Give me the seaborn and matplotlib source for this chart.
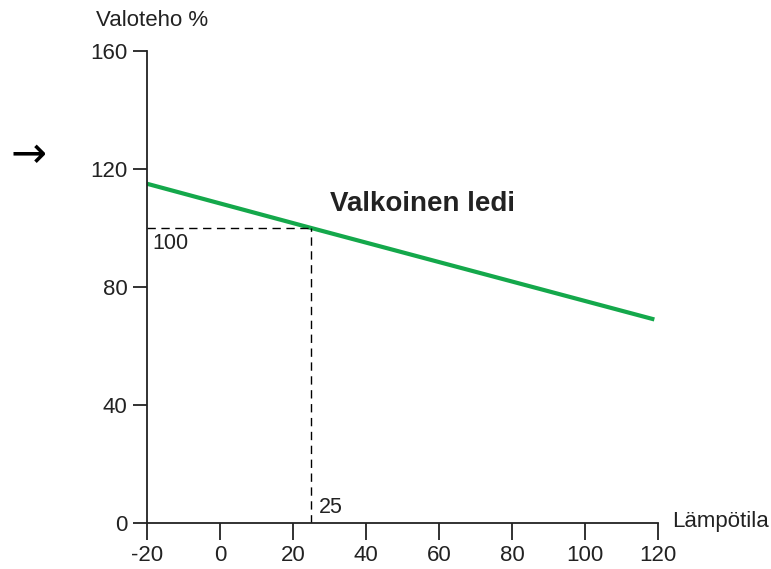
import matplotlib
matplotlib.use("Agg")
import matplotlib.pyplot as plt
import seaborn as sns
import pandas as pd

# Data
temps = [-20, 25, 119]
output = [115, 100, 69]
ref_temp = 25
ref_output = 100
x_ticks = [-20, 0, 20, 40, 60, 80, 100, 120]
y_ticks = [0, 40, 80, 120, 160]
series_label = "Valkoinen ledi"

sns.set_theme(style="white")
plt.rcParams['font.family'] = ['Liberation Sans', 'DejaVu Sans']

fig = plt.figure(figsize=(7.71, 5.69), dpi=100)
ax = fig.add_axes([147/771, 1-523/569, (658-147)/771, (523-51)/569])

df = pd.DataFrame({"t": temps, "p": output})
sns.lineplot(data=df, x="t", y="p", ax=ax, color="#14a84b", linewidth=3.0,
             solid_capstyle="butt")

# reference dashed lines
ax.plot([-20, ref_temp], [ref_output, ref_output], color="black", lw=1.0,
        dashes=(6, 4))
ax.plot([ref_temp, ref_temp], [0, ref_output], color="black", lw=1.0,
        dashes=(6, 4))

ax.set_xlim(-20, 120)
ax.set_ylim(0, 160)
ax.set_xticks(x_ticks)
ax.set_xticklabels([str(v) for v in x_ticks])
ax.set_yticks(y_ticks)
ax.set_yticklabels([str(v) for v in y_ticks])
ax.set_xlabel("")
ax.set_ylabel("")

for s in ["top", "right"]:
    ax.spines[s].set_visible(False)
for s in ["left", "bottom"]:
    ax.spines[s].set_color("#222222")
    ax.spines[s].set_linewidth(1.3)

ax.tick_params(axis="x", direction="out", length=12, width=1.3, pad=4,
               labelsize=16, color="#222222", labelcolor="#222222", bottom=True)
ax.tick_params(axis="y", direction="out", length=10, width=1.3, pad=4,
               labelsize=16, color="#222222", labelcolor="#222222", left=True)

ax.text(30.1, 108.1, series_label, fontsize=20, fontweight="bold",
        color="#222222", va="center", ha="left")
ax.text(-18.4, 94.9, str(ref_output), fontsize=15.5, color="#222222",
        va="center", ha="left")
ax.text(27.2, 5.1, str(ref_temp), fontsize=15.5, color="#222222",
        va="center", ha="left")

fig.text(152/771, 1-20/569, "Valoteho %", fontsize=16, color="#222222",
         ha="center", va="center")
fig.text(672/771, 1-521/569, "Lämpötila", fontsize=16, color="#222222",
         ha="left", va="center")
fig.text(28/771, 1-155/569, "→", fontsize=31, color="black",
         ha="center", va="center", family=["DejaVu Sans"])

fig.savefig("out.png", dpi=100)
